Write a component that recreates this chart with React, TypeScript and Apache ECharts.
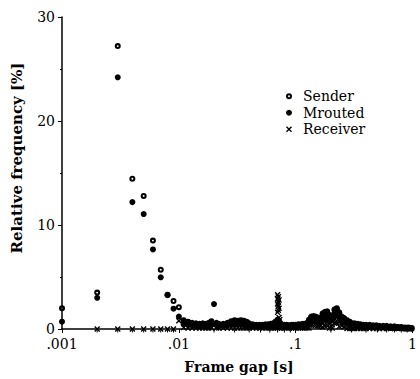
import React, { useEffect, useRef } from "react";
import * as echarts from "echarts";

// Frame gaps (seconds) for the short-gap part of the distribution
const headGaps = [0.001, 0.002, 0.003, 0.004, 0.005, 0.006, 0.007, 0.008, 0.009, 0.01];
const senderHead = [2.0, 3.5, 27.2, 14.45, 12.8, 8.5, 5.7, 3.3, 2.7, 2.1];
const mroutedHead = [0.7, 3.0, 24.2, 12.2, 11.05, 7.65, 4.97, 3.25, 1.95, 1.2];
const receiverHeadGaps = [0.002, 0.003, 0.004, 0.005, 0.006, 0.007, 0.008, 0.009, 0.01];
const receiverHead = [0, 0, 0, 0, 0, 0, 0, 0, 0.8];

// Long tail (0.011 s .. 1 s)
const tailGaps = [
  0.011, 0.012, 0.013, 0.014, 0.015, 0.016, 0.017, 0.018, 0.019, 0.021,
  0.022, 0.024, 0.026, 0.028, 0.030, 0.032, 0.034, 0.036, 0.038, 0.040,
  0.043, 0.046, 0.049, 0.052, 0.055, 0.058, 0.061, 0.064, 0.067, 0.070,
  0.073, 0.076, 0.080, 0.084, 0.088, 0.092, 0.096, 0.100, 0.105, 0.110,
  0.115, 0.120, 0.125, 0.130, 0.136, 0.142, 0.148, 0.155, 0.162, 0.170,
  0.178, 0.186, 0.195, 0.205, 0.215, 0.225, 0.236, 0.248, 0.260, 0.275,
  0.290, 0.305, 0.320, 0.340, 0.360, 0.380, 0.400, 0.430, 0.460, 0.490,
  0.520, 0.560, 0.600, 0.650, 0.700, 0.750, 0.800, 0.860, 0.920, 0.980,
];
const mroutedTail = [
  0.85, 0.7, 0.6, 0.55, 0.5, 0.55, 0.5, 0.6, 0.75, 0.6,
  0.5, 0.5, 0.6, 0.75, 0.85, 0.8, 0.85, 0.8, 0.7, 0.55,
  0.45, 0.4, 0.4, 0.4, 0.45, 0.45, 0.5, 0.55, 0.7, 0.9,
  0.65, 0.45, 0.4, 0.4, 0.35, 0.4, 0.4, 0.4, 0.45, 0.45,
  0.5, 0.5, 0.6, 0.9, 1.2, 1.25, 1.2, 1.1, 1.0, 1.5,
  1.65, 1.7, 1.35, 1.3, 1.9, 2.0, 1.6, 1.2, 1.05, 0.85,
  0.7, 0.55, 0.55, 0.5, 0.45, 0.4, 0.4, 0.4, 0.35, 0.35,
  0.3, 0.3, 0.3, 0.25, 0.25, 0.2, 0.2, 0.15, 0.15, 0.1,
];
const mroutedTailMid = [
  0.45, 0.4, 0.35, 0.3, 0.3, 0.3, 0.3, 0.35, 0.4, 0.35,
  0.3, 0.3, 0.35, 0.4, 0.45, 0.45, 0.45, 0.45, 0.4, 0.3,
  0.25, 0.25, 0.25, 0.25, 0.25, 0.25, 0.3, 0.3, 0.4, 0.5,
  0.4, 0.25, 0.25, 0.25, 0.2, 0.25, 0.25, 0.25, 0.25, 0.25,
  0.3, 0.3, 0.35, 0.5, 0.75, 0.8, 0.75, 0.7, 0.6, 1.05,
  1.2, 1.25, 0.9, 0.85, 1.45, 1.55, 1.15, 0.75, 0.6, 0.5,
  0.4, 0.3, 0.3, 0.3, 0.25, 0.25, 0.25, 0.2, 0.2, 0.2,
  0.15, 0.15, 0.15, 0.1, 0.1, 0.1, 0.1, 0.05, 0.05, 0.05,
];
const senderTail = [
  0.75, 0.6, 0.5, 0.45, 0.4, 0.45, 0.4, 0.5, 0.65, 0.5,
  0.4, 0.4, 0.5, 0.65, 0.75, 0.7, 0.75, 0.7, 0.6, 0.45,
  0.35, 0.3, 0.3, 0.3, 0.35, 0.35, 0.4, 0.45, 0.6, 0.8,
  0.55, 0.35, 0.3, 0.3, 0.25, 0.3, 0.3, 0.3, 0.35, 0.35,
  0.4, 0.4, 0.5, 0.8, 1.1, 1.15, 1.1, 1.0, 0.9, 1.4,
  1.55, 1.6, 1.25, 1.2, 1.8, 1.9, 1.5, 1.1, 0.95, 0.75,
  0.6, 0.45, 0.45, 0.4, 0.35, 0.3, 0.3, 0.3, 0.25, 0.25,
  0.2, 0.2, 0.2, 0.15, 0.15, 0.1, 0.1, 0.05, 0.05, 0.05,
];
const receiverTail = [
  0.15, 0.1, 0.1, 0.1, 0.1, 0.1, 0.1, 0.1, 0.1, 0.1,
  0.1, 0.1, 0.1, 0.1, 0.1, 0.1, 0.1, 0.1, 0.1, 0.1,
  0.1, 0.1, 0.1, 0.1, 0.1, 0.1, 0.1, 0.1, 0.1, 0.1,
  0.1, 0.1, 0.1, 0.1, 0.1, 0.1, 0.1, 0.1, 0.1, 0.1,
  0.1, 0.1, 0.1, 0.1, 0.35, 0.35, 0.35, 0.3, 0.25, 0.6,
  0.75, 0.8, 0.45, 0.4, 1.0, 1.1, 0.7, 0.3, 0.2, 0.05,
  0.05, 0.05, 0.05, 0.05, 0.05, 0.05, 0.05, 0.05, 0.05, 0.05,
  0.05, 0.05, 0.05, 0.05, 0.05, 0.05, 0.05, 0.05, 0.05, 0.05,
];

// Extra points around the 0.17–0.24 s peaks
const receiverPeakGaps = [0.170, 0.178, 0.186, 0.195, 0.205, 0.215, 0.225, 0.236];
const receiverPeak = [0.2, 0.3, 0.35, 0.1, 0.1, 0.55, 0.6, 0.25];

// Isolated points
const mroutedExtraGaps = [0.020];
const mroutedExtra = [2.4];
const receiverSpikeGaps = [0.070, 0.071, 0.070, 0.072, 0.071, 0.070, 0.071, 0.072, 0.071, 0.070, 0.072, 0.073];
const receiverSpike = [3.3, 3.1, 2.9, 2.8, 2.6, 2.4, 2.2, 2.0, 1.8, 1.6, 1.1, 0.9];

// Axis tick labels and minor tick positions
const xTickLabels = [".001", ".01", ".1", "1"];
const xMinorTicks = [
  0.002, 0.003, 0.004, 0.005, 0.006, 0.007, 0.008, 0.009,
  0.02, 0.03, 0.04, 0.05, 0.06, 0.07, 0.08, 0.09,
  0.2, 0.3, 0.4, 0.5, 0.6, 0.7, 0.8, 0.9,
];

const seriesNames = ["Sender", "Mrouted", "Receiver"];

const pairs = (gs: number[], vs: number[]) => gs.map((g, i) => [g, vs[i]]);

const FONT = "DejaVu Serif";
const X_PATH =
  "path://M0,1.6L1.6,0L5,3.4L8.4,0L10,1.6L6.6,5L10,8.4L8.4,10L5,6.6L1.6,10L0,8.4L3.4,5Z";
// small ring: filled disc with a tiny hole (open-circle marker of the scan)
const RING_PATH =
  "path://M5,0A5,5,0,1,1,5,10A5,5,0,1,1,5,0ZM5,3.4A1.6,1.6,0,1,0,5,6.6A1.6,1.6,0,1,0,5,3.4Z";

export default function App() {
  const ref = useRef<HTMLDivElement>(null);

  useEffect(() => {
    if (!ref.current) return;
    const chart = echarts.init(ref.current, undefined, { renderer: "svg" });

    const senderData = [...pairs(headGaps, senderHead), ...pairs(tailGaps, senderTail)];
    const mroutedData = [
      ...pairs(headGaps, mroutedHead),
      ...pairs(tailGaps, mroutedTail),
      ...pairs(tailGaps, mroutedTailMid),
      ...pairs(mroutedExtraGaps, mroutedExtra),
    ];
    const receiverData = [
      ...pairs(receiverHeadGaps, receiverHead),
      ...pairs(tailGaps, receiverTail),
      ...pairs(receiverPeakGaps, receiverPeak),
      ...pairs(receiverSpikeGaps, receiverSpike),
    ];

    chart.setOption({
      animation: false,
      backgroundColor: "#ffffff",
      grid: { left: 62, right: 4, top: 17, bottom: 50, containLabel: false },
      legend: {
        data: seriesNames,
        orient: "vertical",
        left: 281,
        top: 83,
        itemWidth: 18,
        itemHeight: 6,
        itemGap: 0,
        textStyle: { fontFamily: FONT, fontSize: 14, color: "#000", lineHeight: 16.5 },
      },
      xAxis: {
        type: "log",
        logBase: 10,
        min: 0.001,
        max: 1,
        axisLine: { show: true, onZero: true, lineStyle: { color: "#000", width: 1.5 } },
        axisTick: { show: true, inside: false, length: 4, lineStyle: { color: "#000", width: 1 } },
        splitLine: { show: false },
        axisLabel: {
          fontFamily: FONT,
          fontSize: 14,
          color: "#000",
          margin: 8,
          formatter: (v: number) => xTickLabels[Math.round(Math.log10(v)) + 3],
        },
      },
      yAxis: {
        type: "value",
        min: 0,
        max: 30,
        interval: 10,
        axisLine: { show: true, lineStyle: { color: "#000", width: 1.5 } },
        axisTick: { show: true, length: 4, lineStyle: { color: "#000", width: 1 } },
        minorTick: { show: true, splitNumber: 2, length: 2, lineStyle: { color: "#000" } },
        splitLine: { show: false },
        axisLabel: { fontFamily: FONT, fontSize: 14, color: "#000", margin: 7 },
      },
      graphic: [
        {
          type: "text",
          x: 17,
          y: 158,
          rotation: Math.PI / 2,
          style: {
            text: "Relative frequency [%]",
            font: `bold 15px "${FONT}"`,
            fill: "#000",
            align: "center",
            verticalAlign: "middle",
          },
        },
        {
          type: "text",
          x: 239,
          y: 367,
          style: {
            text: "Frame gap [s]",
            font: `bold 14px "${FONT}"`,
            fill: "#000",
            align: "center",
            verticalAlign: "middle",
          },
        },
      ],
      series: [
        {
          name: "Sender",
          type: "scatter",
          symbol: RING_PATH,
          symbolSize: 6,
          itemStyle: { color: "#000", opacity: 1 },
          data: senderData,
          z: 2,
        },
        {
          name: "Mrouted",
          type: "scatter",
          symbol: "circle",
          symbolSize: 6,
          itemStyle: { color: "#000", opacity: 1 },
          data: mroutedData,
          z: 3,
        },
        {
          name: "Receiver",
          type: "scatter",
          symbol: X_PATH,
          symbolSize: 6,
          itemStyle: { color: "#000", opacity: 1 },
          data: receiverData,
          z: 4,
        },
        {
          name: "minor ticks",
          type: "scatter",
          silent: true,
          symbol: "rect",
          symbolSize: [1, 3],
          symbolOffset: [0, 2],
          itemStyle: { color: "#000", opacity: 1 },
          data: xMinorTicks.map((g) => [g, 0]),
          z: 1,
        },
      ],
    });

    return () => chart.dispose();
  }, []);

  return (
    <div
      ref={ref}
      style={{ position: "absolute", left: 0, top: 0, width: 420, height: 379 }}
    />
  );
}
